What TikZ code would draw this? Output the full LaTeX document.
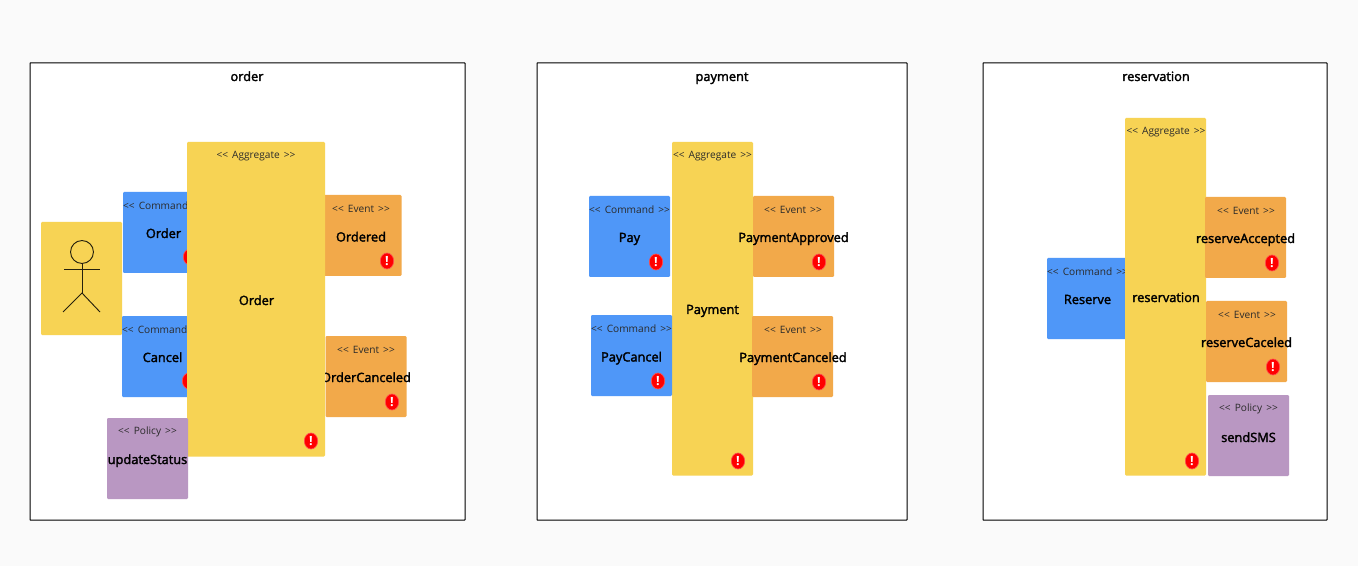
\documentclass[tikz,border=0pt]{standalone}
\usepackage{fontspec}
\setmainfont{Open Sans}
\newfontfamily\labelfont{Open Sans}
\newcommand{\heavytext}[1]{\special{pdf:code 2 Tr 0.22 w}#1\special{pdf:code 0 Tr 0.75 w}}
\usetikzlibrary{shapes.geometric}
\definecolor{bgpage}{HTML}{FAFAFA}
\definecolor{aggcol}{HTML}{F7D354}
\definecolor{cmdcol}{HTML}{4F97F8}
\definecolor{evtcol}{HTML}{F2A94A}
\definecolor{polcol}{HTML}{B997C2}
\definecolor{stereocol}{HTML}{2A2A2A}
\tikzset{
  x=0.75pt,y=-0.75pt,
  panelbox/.style={draw=black,line width=0.75pt,fill=white,rounded corners=0.3pt,inner sep=0pt},
  sticky/.style={rectangle,inner sep=0pt,rounded corners=0.8pt,draw=none},
  aggbox/.style={sticky,fill=aggcol},
  cmdbox/.style={sticky,fill=cmdcol},
  evtbox/.style={sticky,fill=evtcol},
  polbox/.style={sticky,fill=polcol},
  stereo/.style={font=\fontsize{7.6pt}{8pt}\selectfont,text=stereocol,inner sep=0pt},
  labeltext/.style={font=\labelfont\fontsize{9.6pt}{11pt}\selectfont,text=black,inner sep=0pt},
  titletext/.style={font=\labelfont\fontsize{9.6pt}{11pt}\selectfont,text=black,inner sep=0pt,anchor=base},
  badge/.style={ellipse,fill=red,draw=red!70!white,line width=0.5pt,minimum width=10pt,minimum height=12pt,inner sep=0pt,
    font=\bfseries\fontsize{9.5pt}{9.5pt}\selectfont,text=white},
  stick/.style={draw=black!85!aggcol,line width=0.7pt},
}
\newcommand{\boxat}[6]{\node[#2,minimum width=#5*0.75pt,minimum height=#6*0.75pt] (#1) at ({#3+#5/2},{#4+#6/2}) {};}
\newcommand{\badgeat}[3]{\node[badge] (#1) at (#2,#3) {!};}
\newcommand{\stereoat}[4]{\node[stereo] (#1) at (#2,#3+0.7) {<{}<\hspace{1.1pt} #4 \hspace{1.1pt}>{}>};}
\newcommand{\labelat}[4]{\node[labeltext,anchor=base] (#1) at (#2,#3) {\heavytext{#4}};}
\begin{document}
\begin{tikzpicture}
\useasboundingbox (0,0) rectangle (1358,566);
\fill[bgpage] (0,0) rectangle (1358,566);
% panels
\boxat{pOrder}{panelbox}{30}{63}{435}{457}
\boxat{pPayment}{panelbox}{537}{63}{370}{457}
\boxat{pReservation}{panelbox}{983}{63}{344}{457}
\node[titletext] (tOrder) at (247,81) {\heavytext{order}};
\node[titletext] (tPayment) at (722,81) {\heavytext{payment}};
\node[titletext] (tReservation) at (1156,81) {\heavytext{reservation}};
% ORDER
\boxat{actor}{aggbox}{41}{222}{81}{113}
\node[circle,stick,minimum size=17.2pt,inner sep=0pt] (head) at (82,252) {};
\coordinate (hip) at (82,293);
\coordinate (armL) at (64,269);
\coordinate (armR) at (100,269);
\coordinate (legL) at (63,312);
\coordinate (legR) at (100,312);
\draw[stick] (head.south) -- (hip);
\draw[stick] (armL) -- (armR);
\draw[stick] (legL) -- (hip) -- (legR);
\boxat{cOrder}{cmdbox}{123}{192}{81}{81}
\stereoat{scOrder}{163.5}{205}{Command}
\labelat{lcOrder}{163.5}{238}{Order}
\badgeat{bcOrder}{190}{257}
\boxat{cCancel}{cmdbox}{122}{316}{81}{81}
\stereoat{scCancel}{162.5}{329}{Command}
\labelat{lcCancel}{162.5}{362}{Cancel}
\badgeat{bcCancel}{189}{381}
\boxat{eOrdered}{evtbox}{320.5}{195}{81}{81}
\stereoat{seOrdered}{361}{208}{Event}
\labelat{leOrdered}{361}{241.5}{Ordered}
\badgeat{beOrdered}{387}{261}
\boxat{eOrderCanceled}{evtbox}{325.5}{336}{81}{81}
\stereoat{seOrderCanceled}{366}{349}{Event}
\labelat{leOrderCanceled}{366}{382}{OrderCanceled}
\badgeat{beOrderCanceled}{392}{402}
\boxat{aOrder}{aggbox}{187}{142}{138}{314.5}
\stereoat{saOrder}{256}{155}{Aggregate}
\labelat{laOrder}{256.5}{305}{Order}
\badgeat{baOrder}{311}{441}
\boxat{pUpdate}{polbox}{107}{418}{81}{81}
\stereoat{spUpdate}{147.5}{431}{Policy}
\labelat{lpUpdate}{147.5}{464}{updateStatus}
% PAYMENT
\boxat{aPayment}{aggbox}{672}{142}{81}{333.5}
\stereoat{saPayment}{712.5}{155}{Aggregate}
\labelat{laPayment}{712.5}{314}{Payment}
\badgeat{baPayment}{738}{461}
\boxat{cPay}{cmdbox}{589}{196}{81}{81}
\stereoat{scPay}{629.5}{209.5}{Command}
\labelat{lcPay}{629.5}{242}{Pay}
\badgeat{bcPay}{656}{262}
\boxat{cPayCancel}{cmdbox}{591}{315}{81}{81}
\stereoat{scPayCancel}{631.5}{328}{Command}
\labelat{lcPayCancel}{631.5}{361.5}{PayCancel}
\badgeat{bcPayCancel}{658}{381}
\boxat{ePaymentApproved}{evtbox}{753}{196}{81}{81}
\stereoat{sePaymentApproved}{793}{209.5}{Event}
\labelat{lePaymentApproved}{793.5}{242}{PaymentApproved}
\badgeat{bePaymentApproved}{819}{262}
\boxat{ePaymentCanceled}{evtbox}{752}{316}{81}{81}
\stereoat{sePaymentCanceled}{793}{329}{Event}
\labelat{lePaymentCanceled}{793}{362}{PaymentCanceled}
\badgeat{bePaymentCanceled}{819}{382}
% RESERVATION
\boxat{cReserve}{cmdbox}{1047}{258}{81}{81}
\stereoat{scReserve}{1087.5}{271}{Command}
\labelat{lcReserve}{1087.5}{304}{Reserve}
\boxat{aReservation}{aggbox}{1125}{118}{81}{357.5}
\stereoat{saReservation}{1166}{131}{Aggregate}
\labelat{laReservation}{1166}{302}{reservation}
\badgeat{baReservation}{1192}{461}
\boxat{eAccepted}{evtbox}{1205}{197}{81}{81}
\stereoat{seAccepted}{1246}{210}{Event}
\labelat{leAccepted}{1245.5}{243}{reserveAccepted}
\badgeat{beAccepted}{1272}{263}
\boxat{eCaceled}{evtbox}{1206}{301}{81}{81}
\stereoat{seCaceled}{1247}{314}{Event}
\labelat{leCaceled}{1246.5}{347}{reserveCaceled}
\badgeat{beCaceled}{1273}{367}
\boxat{pSend}{polbox}{1208}{395}{81}{81}
\stereoat{spSend}{1248.5}{408}{Policy}
\labelat{lpSend}{1248.5}{442}{sendSMS}
\end{tikzpicture}
\end{document}
